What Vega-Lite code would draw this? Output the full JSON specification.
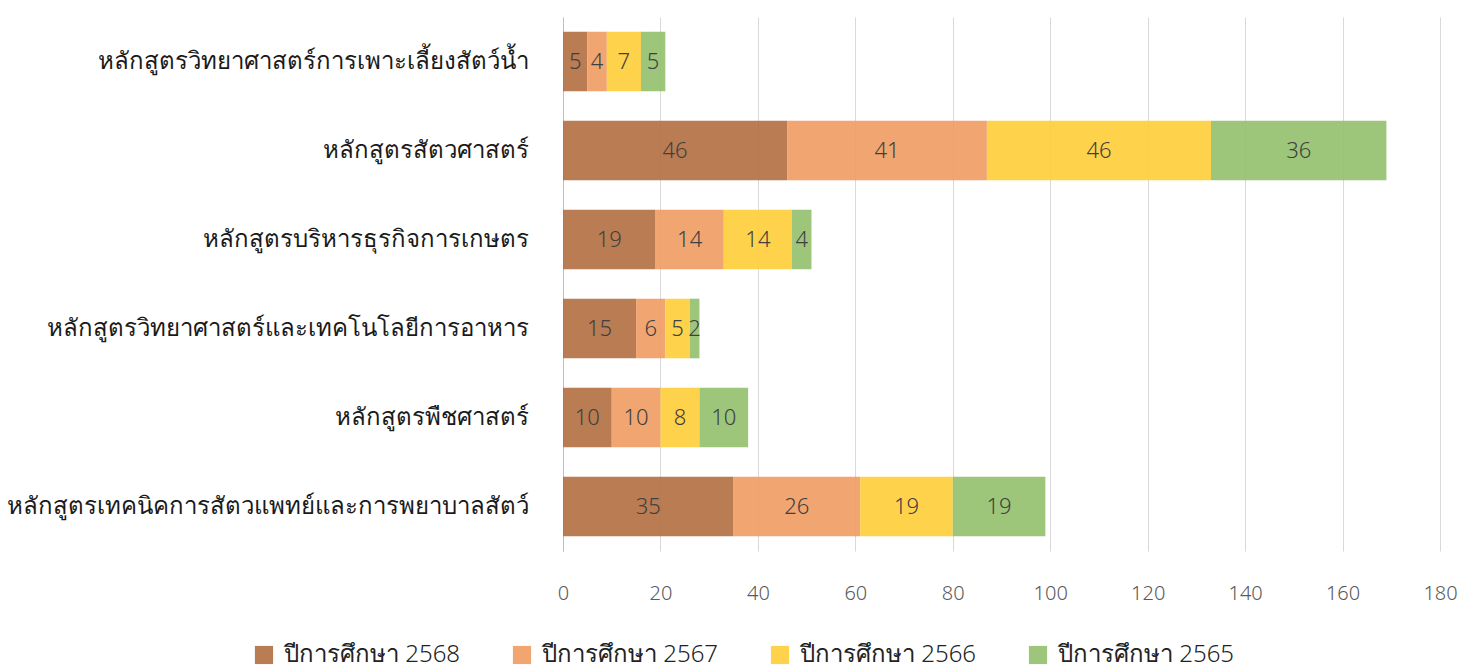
{
  "$schema": "https://vega.github.io/schema/vega-lite/v6.json",
  "autosize": "none",
  "width": 877,
  "height": 534,
  "padding": {"left": 563, "top": 17, "right": 22, "bottom": 119},
  "background": "white",
  "config": {
    "view": {"stroke": null},
    "font": "Noto Sans"
  },
  "data": {
    "values": [
      {"course": "หลักสูตรวิทยาศาสตร์การเพาะเลี้ยงสัตว์น้ำ", "year": "ปีการศึกษา 2568", "ord": 1, "value": 5},
      {"course": "หลักสูตรวิทยาศาสตร์การเพาะเลี้ยงสัตว์น้ำ", "year": "ปีการศึกษา 2567", "ord": 2, "value": 4},
      {"course": "หลักสูตรวิทยาศาสตร์การเพาะเลี้ยงสัตว์น้ำ", "year": "ปีการศึกษา 2566", "ord": 3, "value": 7},
      {"course": "หลักสูตรวิทยาศาสตร์การเพาะเลี้ยงสัตว์น้ำ", "year": "ปีการศึกษา 2565", "ord": 4, "value": 5},
      {"course": "หลักสูตรสัตวศาสตร์", "year": "ปีการศึกษา 2568", "ord": 1, "value": 46},
      {"course": "หลักสูตรสัตวศาสตร์", "year": "ปีการศึกษา 2567", "ord": 2, "value": 41},
      {"course": "หลักสูตรสัตวศาสตร์", "year": "ปีการศึกษา 2566", "ord": 3, "value": 46},
      {"course": "หลักสูตรสัตวศาสตร์", "year": "ปีการศึกษา 2565", "ord": 4, "value": 36},
      {"course": "หลักสูตรบริหารธุรกิจการเกษตร", "year": "ปีการศึกษา 2568", "ord": 1, "value": 19},
      {"course": "หลักสูตรบริหารธุรกิจการเกษตร", "year": "ปีการศึกษา 2567", "ord": 2, "value": 14},
      {"course": "หลักสูตรบริหารธุรกิจการเกษตร", "year": "ปีการศึกษา 2566", "ord": 3, "value": 14},
      {"course": "หลักสูตรบริหารธุรกิจการเกษตร", "year": "ปีการศึกษา 2565", "ord": 4, "value": 4},
      {"course": "หลักสูตรวิทยาศาสตร์และเทคโนโลยีการอาหาร", "year": "ปีการศึกษา 2568", "ord": 1, "value": 15},
      {"course": "หลักสูตรวิทยาศาสตร์และเทคโนโลยีการอาหาร", "year": "ปีการศึกษา 2567", "ord": 2, "value": 6},
      {"course": "หลักสูตรวิทยาศาสตร์และเทคโนโลยีการอาหาร", "year": "ปีการศึกษา 2566", "ord": 3, "value": 5},
      {"course": "หลักสูตรวิทยาศาสตร์และเทคโนโลยีการอาหาร", "year": "ปีการศึกษา 2565", "ord": 4, "value": 2},
      {"course": "หลักสูตรพืชศาสตร์", "year": "ปีการศึกษา 2568", "ord": 1, "value": 10},
      {"course": "หลักสูตรพืชศาสตร์", "year": "ปีการศึกษา 2567", "ord": 2, "value": 10},
      {"course": "หลักสูตรพืชศาสตร์", "year": "ปีการศึกษา 2566", "ord": 3, "value": 8},
      {"course": "หลักสูตรพืชศาสตร์", "year": "ปีการศึกษา 2565", "ord": 4, "value": 10},
      {"course": "หลักสูตรเทคนิคการสัตวแพทย์และการพยาบาลสัตว์", "year": "ปีการศึกษา 2568", "ord": 1, "value": 35},
      {"course": "หลักสูตรเทคนิคการสัตวแพทย์และการพยาบาลสัตว์", "year": "ปีการศึกษา 2567", "ord": 2, "value": 26},
      {"course": "หลักสูตรเทคนิคการสัตวแพทย์และการพยาบาลสัตว์", "year": "ปีการศึกษา 2566", "ord": 3, "value": 19},
      {"course": "หลักสูตรเทคนิคการสัตวแพทย์และการพยาบาลสัตว์", "year": "ปีการศึกษา 2565", "ord": 4, "value": 19}
    ]
  },
  "transform": [
    {"stack": "value", "groupby": ["course"], "sort": [{"field": "ord", "order": "ascending"}], "as": ["x0", "x1"]},
    {"calculate": "(datum.x0 + datum.x1) / 2", "as": "xm"}
  ],
  "encoding": {
    "y": {
      "field": "course",
      "type": "nominal",
      "sort": null,
      "title": null,
      "scale": {"paddingInner": 0.33, "paddingOuter": 0.165},
      "axis": {
        "domain": true,
        "domainColor": "#bfbfbf",
        "domainWidth": 1,
        "ticks": false,
        "labelFontSize": 24,
        "labelFontWeight": 300,
        "labelColor": "#1a1a1a",
        "labelPadding": 35,
        "labelLimit": 600
      }
    }
  },
  "layer": [
    {
      "mark": {"type": "bar", "opacity": 0.9},
      "encoding": {
        "x": {
          "field": "x0",
          "type": "quantitative",
          "title": null,
          "scale": {"domain": [0, 180], "nice": false},
          "axis": {
            "values": [0, 20, 40, 60, 80, 100, 120, 140, 160, 180],
            "grid": true,
            "gridColor": "#d9d9d9",
            "domain": false,
            "ticks": false,
            "labelFlush": false,
            "labelFontSize": 20,
            "labelFontWeight": 300,
            "labelColor": "#595959",
            "labelPadding": 32
          }
        },
        "x2": {"field": "x1"},
        "color": {
          "field": "year",
          "type": "nominal",
          "sort": ["ปีการศึกษา 2568", "ปีการศึกษา 2567", "ปีการศึกษา 2566", "ปีการศึกษา 2565"],
          "scale": {
            "domain": ["ปีการศึกษา 2568", "ปีการศึกษา 2567", "ปีการศึกษา 2566", "ปีการศึกษา 2565"],
            "range": ["#b16e40", "#ef9b60", "#ffcd37", "#92c06d"]
          },
          "legend": {
            "orient": "none",
            "legendX": -311,
            "legendY": 626,
            "direction": "horizontal",
            "columns": 4,
            "title": null,
            "symbolType": "square",
            "symbolSize": 330,
            "symbolOpacity": 0.9,
            "symbolStrokeWidth": 0,
            "labelFontSize": 24,
            "labelFontWeight": 300,
            "labelColor": "#222222",
            "labelOffset": 8,
            "columnPadding": 49,
            "labelLimit": 300
          }
        }
      }
    },
    {
      "mark": {"type": "text", "fontSize": 22, "fontWeight": 300, "color": "#404040", "align": "center", "baseline": "middle"},
      "encoding": {
        "x": {"field": "xm", "type": "quantitative"},
        "text": {"field": "value", "type": "quantitative"}
      }
    }
  ]
}
